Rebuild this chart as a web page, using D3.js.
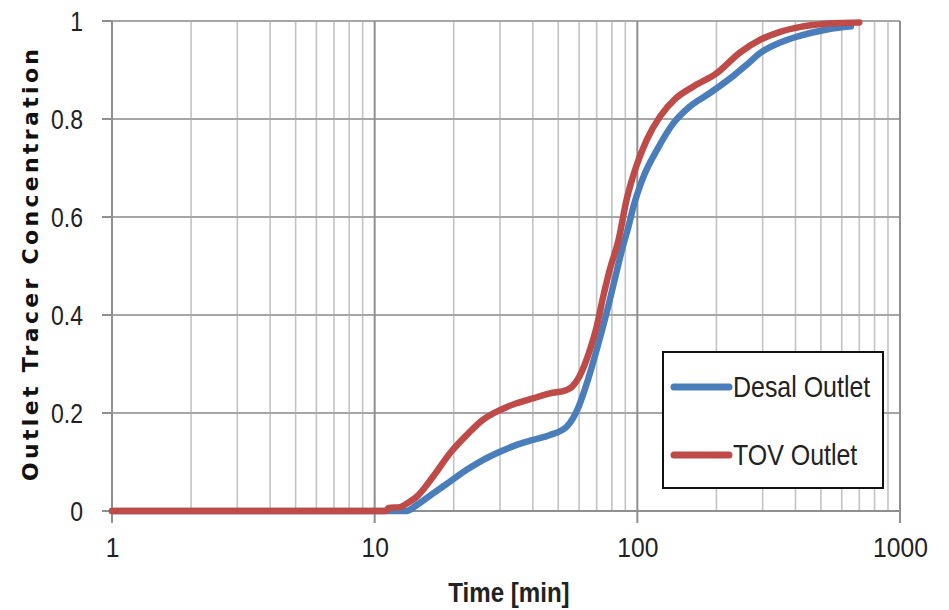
<!DOCTYPE html>
<html>
<head>
<meta charset="utf-8">
<script src="https://cdn.jsdelivr.net/npm/d3@7"></script>
<style>
  html, body { margin: 0; padding: 0; background: #fff; }
  svg { display: block; }
  .narrow { font-family: "Liberation Sans Narrow", "Arial Narrow", "Liberation Sans", sans-serif; }
</style>
</head>
<body>
<svg id="chart" width="949" height="610"></svg>
<script>
// ---- Data ----
const desalTime = [1, 5, 10, 13.2, 14.45, 16.7, 19.35, 22.4, 25.8, 30, 34.7, 40.1, 46.5, 53.8, 57, 60, 64, 70, 74, 78.5, 83.5, 88, 92.5, 96.6, 105.5, 118.8, 137, 158, 189, 232, 260, 294, 350, 418, 510, 580, 650];
const desalConc = [0, 0, 0, 0, 0.012, 0.036, 0.06, 0.084, 0.104, 0.121, 0.135, 0.145, 0.155, 0.172, 0.19, 0.215, 0.258, 0.329, 0.376, 0.43, 0.49, 0.539, 0.58, 0.621, 0.682, 0.737, 0.791, 0.825, 0.853, 0.888, 0.91, 0.935, 0.956, 0.97, 0.981, 0.986, 0.989];
const tovTime = [1, 5, 10, 11, 11.3, 12.5, 13.5, 14.45, 16.67, 19.35, 22.4, 25.8, 30, 34.7, 40.1, 46.5, 53.8, 56.5, 60.1, 66, 70, 74.1, 78.5, 84.8, 91, 99, 108.5, 122, 140, 163, 200, 245, 294, 350, 418, 510, 600, 700];
const tovConc = [0, 0, 0, 0, 0.006, 0.008, 0.018, 0.029, 0.07, 0.118, 0.155, 0.186, 0.206, 0.22, 0.23, 0.24, 0.247, 0.254, 0.274, 0.329, 0.376, 0.437, 0.492, 0.553, 0.635, 0.703, 0.757, 0.805, 0.842, 0.866, 0.893, 0.935, 0.962, 0.978, 0.988, 0.994, 0.996, 0.997];
const seriesNames = ["Desal Outlet", "TOV Outlet"];
const seriesColors = ["#4a7ebb", "#be4b48"];
const xTickValues = [1, 10, 100, 1000];
const xTickLabels = ["1", "10", "100", "1000"];
const yTickValues = [0, 0.2, 0.4, 0.6, 0.8, 1];
const yTickLabels = ["0", "0.2", "0.4", "0.6", "0.8", "1"];
const xTitle = "Time [min]";
const yTitle = "Outlet Tracer Concentration";

// ---- Layout ----
const mLeft = 112, mRight = 900, mTop = 21, mBottom = 511;
const svg = d3.select("#chart");
svg.append("rect").attr("width", 949).attr("height", 610).attr("fill", "#fff");

const x = d3.scaleLog().domain([1, 1000]).range([mLeft, mRight]);
const y = d3.scaleLinear().domain([0, 1]).range([mBottom, mTop]);

// condense text horizontally (narrow font look)
function condense(sel, k) {
  sel.each(function () {
    const w = this.getComputedTextLength();
    d3.select(this).attr("textLength", w * k).attr("lengthAdjust", "spacingAndGlyphs");
  });
}

// minor vertical grid
const minorTicks = [];
[1, 10, 100].forEach(d => { for (let k = 2; k <= 9; k++) minorTicks.push(d * k); });
svg.append("g").selectAll("line").data(minorTicks).join("line")
  .attr("x1", d => x(d)).attr("x2", d => x(d))
  .attr("y1", mTop).attr("y2", mBottom)
  .attr("stroke", "#c3c3c3").attr("stroke-width", 1.6);

// horizontal grid
svg.append("g").selectAll("line").data(yTickValues.slice(1)).join("line")
  .attr("x1", mLeft).attr("x2", mRight)
  .attr("y1", d => y(d)).attr("y2", d => y(d))
  .attr("stroke", "#a6a6a6").attr("stroke-width", 1.8);

// major vertical grid (decades) with tick marks below axis
svg.append("g").selectAll("line").data(xTickValues).join("line")
  .attr("x1", d => x(d)).attr("x2", d => x(d))
  .attr("y1", mTop).attr("y2", mBottom + 12)
  .attr("stroke", "#8f8f8f").attr("stroke-width", 2);

// x-axis line and y tick marks
svg.append("line").attr("x1", mLeft - 9).attr("x2", mRight).attr("y1", mBottom).attr("y2", mBottom)
  .attr("stroke", "#8f8f8f").attr("stroke-width", 2);
svg.append("g").selectAll("line").data(yTickValues).join("line")
  .attr("x1", mLeft - 10).attr("x2", mLeft)
  .attr("y1", d => y(d)).attr("y2", d => y(d))
  .attr("stroke", "#8f8f8f").attr("stroke-width", 2);

// axes labels using d3 axes (no lines)
const yAxis = d3.axisLeft(y).tickValues(yTickValues).tickFormat((d, i) => yTickLabels[i]).tickSize(0).tickPadding(0);
const gy = svg.append("g").attr("transform", `translate(${mLeft - 29},0)`).call(yAxis);
gy.select(".domain").remove();
gy.selectAll("text").attr("class", "narrow").style("font-size", "28px").attr("fill", "#222").attr("dy", "0.35em").call(condense, 0.82);

const xAxis = d3.axisBottom(x).tickValues(xTickValues).tickFormat((d, i) => xTickLabels[i]).tickSize(0).tickPadding(0);
const gx = svg.append("g").attr("transform", `translate(0,${mBottom + 36})`).call(xAxis);
gx.select(".domain").remove();
gx.selectAll("text").attr("class", "narrow").style("font-size", "28px").attr("fill", "#222").attr("dy", "0.35em").call(condense, 0.88);

// series lines
const line = d3.line().x(d => x(d[0])).y(d => y(d[1])).curve(d3.curveMonotoneX);
const desal = desalTime.map((t, i) => [t, desalConc[i]]);
const tov = tovTime.map((t, i) => [t, tovConc[i]]);
[desal, tov].forEach((data, i) => {
  svg.append("path").datum(data).attr("d", line)
    .attr("fill", "none").attr("stroke", seriesColors[i])
    .attr("stroke-width", 6.5).attr("stroke-linejoin", "round").attr("stroke-linecap", "round");
});

// titles
svg.append("text").attr("class", "narrow").attr("x", 509).attr("y", 602)
  .attr("text-anchor", "middle").style("font-size", "28px").style("font-weight", "bold")
  .attr("fill", "#222").text(xTitle).call(condense, 0.86);
svg.append("text").attr("transform", "translate(38,265) rotate(-90)")
  .attr("text-anchor", "middle")
  .style("font-family", "'DejaVu Sans', Verdana, sans-serif").style("font-size", "22px").style("font-weight", "bold")
  .attr("textLength", 432).attr("lengthAdjust", "spacing")
  .attr("fill", "#111").text(yTitle);

// legend
const lg = svg.append("g");
lg.append("rect").attr("x", 663).attr("y", 352).attr("width", 220).attr("height", 136)
  .attr("fill", "#fff").attr("stroke", "#111").attr("stroke-width", 2);
seriesNames.forEach((name, i) => {
  const cy = 387 + i * 68;
  lg.append("line").attr("x1", 674).attr("x2", 729).attr("y1", cy).attr("y2", cy)
    .attr("stroke", seriesColors[i]).attr("stroke-width", 7).attr("stroke-linecap", "round");
  lg.append("text").attr("class", "narrow").attr("x", 733).attr("y", cy + 10)
    .style("font-size", "29px").attr("fill", "#222").text(name).call(condense, 0.86);
});
</script>
</body>
</html>
